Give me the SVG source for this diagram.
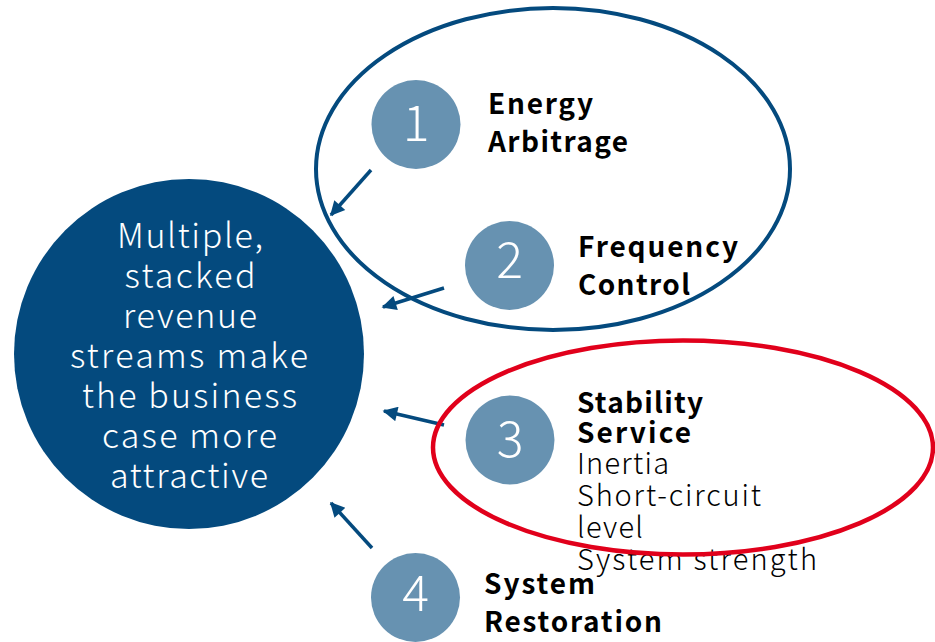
<svg xmlns="http://www.w3.org/2000/svg" width="935" height="642" viewBox="0 0 935 642">
  <defs>
    <style>
      .hub { fill: #044a7e; }
      .num-disc { fill: #6792b1; }
      .num { fill: #ffffff; font-family: "Noto Sans CJK JP", "Noto Sans", sans-serif; font-weight: 300; font-size: 50px; text-anchor: middle; }
      .hub-text { fill: #ffffff; font-family: "Noto Sans CJK JP", "Noto Sans", sans-serif; font-weight: 300; font-size: 34px; text-anchor: middle; }
      .title { fill: #000000; font-family: "Noto Sans CJK JP", "Noto Sans", sans-serif; font-weight: 700; font-size: 28px; }
      .item { fill: #000000; font-family: "Noto Sans CJK JP", "Noto Sans", sans-serif; font-weight: 300; font-size: 29px; }
      .group-blue { fill: none; stroke: #044a7e; stroke-width: 4; }
      .group-red { fill: none; stroke: #e1001b; stroke-width: 4.5; }
      .link { stroke: #044a7e; stroke-width: 3.5; fill: none; marker-end: url(#head); }
    </style>
    <marker id="head" viewBox="0 0 10 10" refX="9" refY="5" markerWidth="5" markerHeight="4.2" orient="auto">
      <path d="M0,0 L10,5 L0,10 Z" fill="#044a7e"/>
    </marker>
  </defs>

  <!-- central hub -->
  <g id="hub">
    <circle class="hub" cx="189" cy="354" r="175"/>
    <text class="hub-text" x="190" y="248" textLength="146">Multiple,</text>
    <text class="hub-text" x="190" y="288" textLength="131">stacked</text>
    <text class="hub-text" x="190" y="328" textLength="134">revenue</text>
    <text class="hub-text" x="189" y="368" textLength="238">streams make</text>
    <text class="hub-text" x="189.5" y="408" textLength="215">the business</text>
    <text class="hub-text" x="189.5" y="448" textLength="175">case more</text>
    <text class="hub-text" x="189" y="488" textLength="158">attractive</text>
  </g>

  <!-- blue grouping ring around services 1 and 2 -->
  <g id="group-market">
    <ellipse class="group-blue" cx="553" cy="169" rx="237" ry="161"/>
  </g>

  <!-- connectors -->
  <g id="connectors">
    <line class="link" x1="371" y1="170" x2="331" y2="215"/>
    <line class="link" x1="444" y1="288" x2="383" y2="307"/>
    <line class="link" x1="444" y1="425" x2="384" y2="411"/>
    <line class="link" x1="372" y1="548" x2="331" y2="503"/>
  </g>

  <g id="service-1">
    <circle class="num-disc" cx="416" cy="124.5" r="44.5"/>
    <text class="num" x="416" y="141">1</text>
    <text class="title" x="488" y="114" textLength="105">Energy</text>
    <text class="title" x="488" y="152" textLength="140">Arbitrage</text>
  </g>

  <g id="service-2">
    <circle class="num-disc" cx="509.5" cy="265.5" r="44.5"/>
    <text class="num" x="509.5" y="278">2</text>
    <text class="title" x="578" y="257" textLength="160">Frequency</text>
    <text class="title" x="578" y="295" textLength="112">Control</text>
  </g>

  <g id="service-3">
    <circle class="num-disc" cx="510" cy="440" r="44.5"/>
    <text class="num" x="510" y="457">3</text>
    <text class="title" x="577" y="413" textLength="126">Stability</text>
    <text class="title" x="577" y="443" textLength="114">Service</text>
    <text class="item" x="577" y="474" textLength="92">Inertia</text>
    <text class="item" x="577" y="506" textLength="184">Short-circuit</text>
    <text class="item" x="577" y="538" textLength="66">level</text>
    <text class="item" x="577" y="570" textLength="240">System strength</text>
  </g>

  <g id="service-4">
    <circle class="num-disc" cx="415.5" cy="597.5" r="44.5"/>
    <text class="num" x="415.5" y="611">4</text>
    <text class="title" x="484" y="594" textLength="111">System</text>
    <text class="title" x="484" y="632" textLength="178">Restoration</text>
  </g>

  <!-- red grouping ring around service 3, drawn over its text -->
  <g id="group-stability">
    <ellipse class="group-red" cx="683" cy="447.5" rx="250" ry="107"/>
  </g>
</svg>
